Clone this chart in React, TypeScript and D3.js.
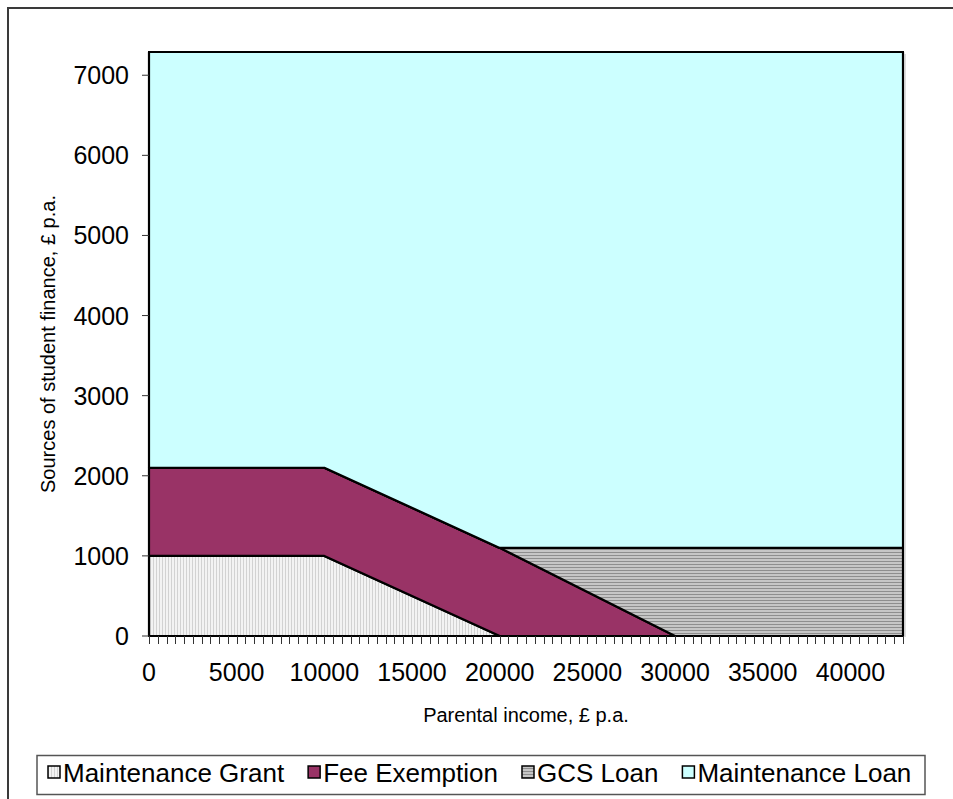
import * as d3 from "d3";

// parental income breakpoints (£ p.a.) and the stacked sources of finance
const incomes = [0, 10000, 20000, 30000, 43000];
const maintenanceGrant = [1000, 1000, 0, 0, 0];
const feeExemption = [1100, 1100, 1100, 0, 0];
const gcsLoan = [0, 0, 0, 1100, 1100];
const maintenanceLoan = [5190, 5190, 6190, 6190, 6190];

const seriesNames = ["Maintenance Grant", "Fee Exemption", "GCS Loan", "Maintenance Loan"];
const xTickLabels = [0, 5000, 10000, 15000, 20000, 25000, 30000, 35000, 40000];
const yTickLabels = [0, 1000, 2000, 3000, 4000, 5000, 6000, 7000];

const FONT = "'Liberation Sans', Arial, sans-serif";
const fills = ["url(#grantPat)", "#993366", "url(#gcsPat)", "#CCFFFF"];

function textWidth(s: string, size: number) {
  const ctx = document.createElement("canvas").getContext("2d");
  if (!ctx) return s.length * size * 0.5;
  ctx.font = `${size}px 'Liberation Sans', Arial`;
  return ctx.measureText(s).width;
}

export default function App() {
  const width = 953;
  const height = 799;
  const plot = { left: 149, right: 903, top: 52, bottom: 636 };

  const x = d3.scaleLinear().domain([0, 43000]).range([plot.left, plot.right]);
  const y = d3.scaleLinear().domain([0, 7290]).range([plot.bottom, plot.top]);

  const rows = incomes.map((inc, i) => ({
    income: inc,
    "Maintenance Grant": maintenanceGrant[i],
    "Fee Exemption": feeExemption[i],
    "GCS Loan": gcsLoan[i],
    "Maintenance Loan": maintenanceLoan[i],
  }));

  const stacked = d3.stack<any>().keys(seriesNames)(rows);

  const area = d3.area<any>()
    .x(d => x(d.data.income))
    .y0(d => y(d[0]))
    .y1(d => y(d[1]));

  const minorTicks = d3.range(0, 43001, 500);

  // legend layout
  const legFont = 26;
  let lx = 48;
  const legendItems = seriesNames.map((name, i) => {
    const item = { name, iconX: lx, textX: lx + 15, fill: fills[i] };
    lx += 15 + textWidth(name, legFont) + 24;
    return item;
  });

  return (
    <svg
      width={width}
      height={height}
      style={{ position: "absolute", left: 0, top: 0, display: "block" }}
      fontFamily={FONT}
    >
      <defs>
        <pattern id="grantPat" width="3" height="4" patternUnits="userSpaceOnUse">
          <rect width="3" height="4" fill="#f3f3f3" />
          <rect x="0" width="1" height="4" fill="#d2d2d2" />
        </pattern>
        <pattern id="gcsPat" width="4" height="3" patternUnits="userSpaceOnUse">
          <rect width="4" height="3" fill="#c6c6c6" />
          <rect y="0" width="4" height="1" fill="#8e8e8e" />
        </pattern>
      </defs>

      <rect x={0} y={0} width={width} height={height} fill="#fff" />
      {/* chart frame */}
      <rect x={8} y={8} width={960} height={820} fill="none" stroke="#3a3a3a" strokeWidth={2} />

      {/* areas */}
      {stacked.map((s, i) => (
        <path
          key={s.key}
          d={area(s) || ""}
          fill={fills[i]}
          stroke="#000"
          strokeWidth={2.2}
          strokeLinejoin="round"
        />
      ))}

      {/* plot border */}
      <line x1={plot.right + 2} x2={plot.right + 2} y1={plot.top + 2} y2={plot.bottom + 1} stroke="#bbb" strokeWidth={1} />
      <rect
        x={plot.left}
        y={plot.top}
        width={plot.right - plot.left}
        height={plot.bottom - plot.top}
        fill="none"
        stroke="#000"
        strokeWidth={2}
      />

      {/* y axis */}
      {yTickLabels.map(v => (
        <g key={v}>
          <line x1={plot.left - 7} x2={plot.left} y1={y(v)} y2={y(v)} stroke="#333" strokeWidth={1} />
          <text x={129} y={y(v)} dy="0.36em" textAnchor="end" fontSize={25} fill="#000">
            {v}
          </text>
        </g>
      ))}

      {/* x axis */}
      {minorTicks.map(v => (
        <line
          key={v}
          x1={Math.round(x(v)) + 0.5}
          x2={Math.round(x(v)) + 0.5}
          y1={plot.bottom}
          y2={plot.bottom + 8}
          stroke="#333"
          strokeWidth={1}
        />
      ))}
      {xTickLabels.map(v => (
        <text key={v} x={x(v)} y={681} textAnchor="middle" fontSize={25} fill="#000">
          {v}
        </text>
      ))}

      {/* axis titles */}
      <text x={(plot.left + plot.right) / 2} y={722} textAnchor="middle" fontSize={20} fill="#000">
        Parental income, £ p.a.
      </text>
      <text
        transform={`translate(55,${(plot.top + plot.bottom) / 2}) rotate(-90)`}
        textAnchor="middle"
        fontSize={20}
        fill="#000"
      >
        Sources of student finance, £ p.a.
      </text>

      {/* legend */}
      <rect x={37} y={755.5} width={888} height={39} fill="#fff" stroke="#555" strokeWidth={1.5} />
      {legendItems.map(it => (
        <g key={it.name}>
          <rect x={it.iconX} y={766} width={12} height={12} fill={it.fill} stroke="#000" strokeWidth={1.5} />
          <text x={it.textX} y={782} fontSize={legFont} fill="#000">
            {it.name}
          </text>
        </g>
      ))}
    </svg>
  );
}
